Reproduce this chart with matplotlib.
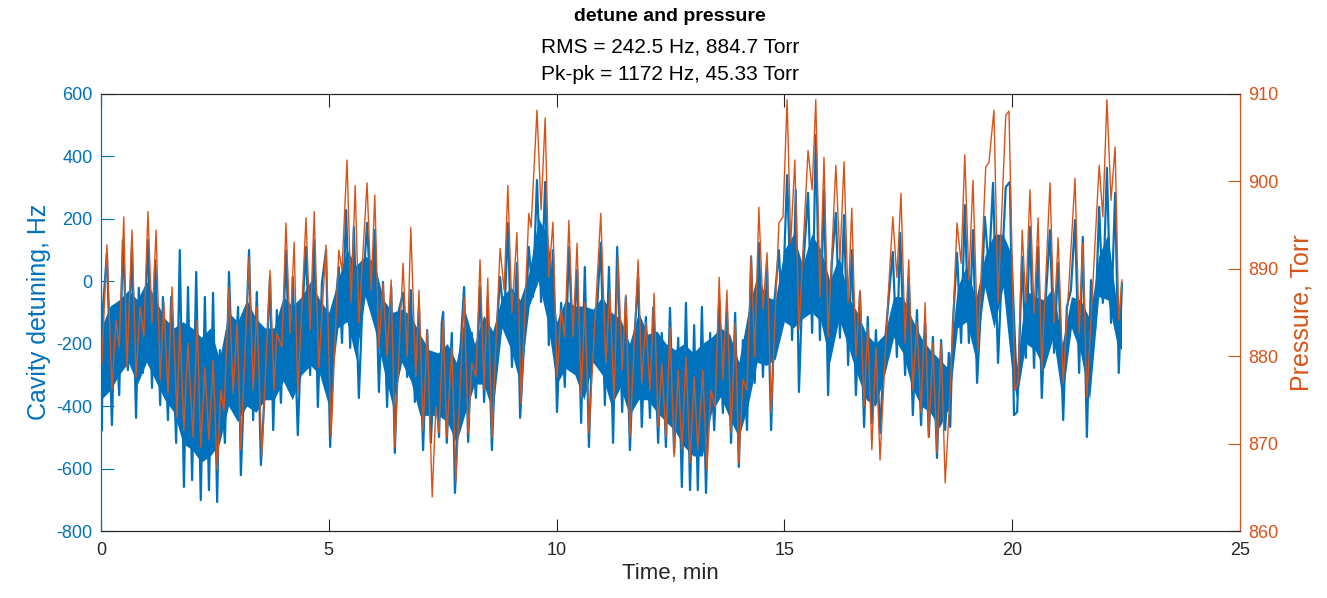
import matplotlib.pyplot as plt

# Cavity detuning (blue), read peak-to-peak from the picture
t_det = [0.02, 0.04, 0.13, 0.24, 0.31, 0.40, 0.48, 0.59, 0.68, 0.77, 0.83, 0.92, 1.03, 1.12, 1.19, 1.30,
         1.36, 1.47, 1.54, 1.65, 1.73, 1.82, 1.91, 2.00, 2.09, 2.19, 2.28, 2.37, 2.46, 2.55, 2.61, 2.72,
         2.81, 2.90, 3.01, 3.07, 3.25, 3.34, 3.42, 3.51, 3.64, 3.71,
         3.78, 3.86, 3.95, 4.06, 4.15, 4.21, 4.32, 4.41, 4.50, 4.59, 4.68, 4.76, 4.85, 4.94, 5.03, 5.11,
         5.22, 5.29, 5.38, 5.47, 5.55, 5.66, 5.75, 5.84, 5.93, 6.01, 6.10, 6.19, 6.28, 6.37, 6.45, 6.54,
         6.63, 6.72, 6.80, 6.89, 6.98, 7.07, 7.16, 7.24, 7.33, 7.42, 7.48,
         7.51, 7.59, 7.70, 7.77, 7.88, 7.97, 8.06, 8.14, 8.23, 8.32, 8.41, 8.49, 8.58, 8.67, 8.76, 8.85,
         8.93, 9.02, 9.13, 9.20, 9.31, 9.39, 9.48, 9.57, 9.66, 9.75, 9.83, 9.92, 10.01, 10.10, 10.18, 10.27,
         10.36, 10.45, 10.54, 10.62, 10.71, 10.80, 10.89, 10.97, 11.06, 11.15,
         11.24, 11.33, 11.44, 11.52, 11.61, 11.70, 11.79, 11.87, 11.96, 12.05, 12.12, 12.23, 12.31, 12.40,
         12.49, 12.58, 12.67, 12.75, 12.84, 12.93, 13.02, 13.10, 13.19, 13.28, 13.37, 13.46, 13.57, 13.65,
         13.74, 13.83, 13.92, 14.00, 14.09, 14.18, 14.27, 14.35, 14.44, 14.53, 14.62, 14.71, 14.79, 14.88,
         14.95, 15.06, 15.17, 15.25, 15.32, 15.41, 15.52, 15.61, 15.69, 15.78, 15.87, 15.96, 16.04, 16.13,
         16.22, 16.31, 16.40, 16.48, 16.57, 16.66, 16.75, 16.83, 16.92, 17.01, 17.10, 17.19, 17.30, 17.38,
         17.47, 17.54, 17.65, 17.73, 17.82, 17.91, 18.00, 18.09, 18.17, 18.26, 18.35, 18.44, 18.53, 18.61,
         18.64, 18.70, 18.79, 18.88, 18.96, 19.05, 19.14, 19.23, 19.32, 19.40, 19.49, 19.58, 19.69, 19.78,
         19.86, 19.95, 20.04, 20.11, 20.22, 20.30, 20.39, 20.48, 20.57, 20.65, 20.74, 20.83, 20.92, 21.01,
         21.12, 21.20, 21.29, 21.38, 21.47, 21.55, 21.64, 21.73, 21.82, 21.91, 21.99, 22.08, 22.17, 22.26,
         22.34, 22.41]
detune_hz = [-477, -93, 90, -461, -77, -365, 131, -285, 109, -438, -22, -294, 131, -342, 67, -397,
             -51, -445, -51, -518, 99, -659, -19, -637, 29, -701, -51, -669, -38, -707, -221, -518,
             29, -371, -83, -621, 99, -445, -35, -589, -221, 13,
             -477, -93, -390, 99, -323, 13, -493, -125, 109, -301, 131, -403, -6, 99, -531, -134,
             45, -198, 227, -214, 173, -374, -29, 186, -83, 163, -355, -3, -403, -19, -550, -93,
             -38, -307, -29, -387, -83, -541, -157, -518, -243, -499, -134,
             -99, -518, -166, -678, -243, -19, -515, -166, -374, -19, -387, -51, -541, -198, 13, -134,
             186, -275, 58, -438, -134, 109, -51, 323, -67, 317, -205, 99, -419, -70, -339, 109,
             -221, 35, -454, 45, -531, -115, -83, 122, -397, 45,
             -518, 109, -419, -51, -541, -198, 13, -467, -115, -438, -86, -518, -166, -531,
             -86, -550, -182, -659, -70, -669, -141, -669, -83, -678, -166, -477, -61, -422,
             -93, -518, -102, -595, -189, -477, 77, -326, 122, -307, 45, -477, -51, 99,
             -125, 339, -189, 291, -355, 35, 282, -166, 467, -189, 291, -365, 58, 218,
             -182, 211, -269, 99, -365, -38, -467, -115, -454, -157, -486, -230, -38, 93,
             -243, 154, -301, 13, -429, -93, -461, -134, -499, -179, -566, -189, -477, -230,
             -467, -134, 90, -198, 243, -198, 163, -326, -70, 205, 35, 314, -262, 58,
             301, 317, -429, -419, 77, -246, 173, -278, 109, -374, -51, 163, -230, 58,
             -445, -83, -29, 195, -294, 141, -499, 3, -157, 237, -70, 362, -134, 282,
             -294, -6]

# solid core of the blue trace (where the fast detuning noise fills in)
t_core = [0.0, 0.2, 0.4, 0.6, 0.8, 1.0, 1.2, 1.4, 1.6, 1.8,
          2.0, 2.2, 2.4, 2.6, 2.8, 3.0, 3.2, 3.4, 3.6, 3.8,
          4.0, 4.2, 4.4, 4.6, 4.8, 5.0, 5.2, 5.4, 5.6, 5.8,
          6.0, 6.2, 6.4, 6.6, 6.8, 7.0, 7.2, 7.4, 7.6, 7.8,
          8.0, 8.2, 8.4, 8.6, 8.8, 9.0, 9.2, 9.4, 9.6, 9.8,
          10.0, 10.2, 10.4, 10.6, 10.8, 11.0, 11.2, 11.4, 11.6, 11.8,
          12.0, 12.2, 12.4, 12.6, 12.8, 13.0, 13.2, 13.4, 13.6, 13.8,
          14.0, 14.2, 14.4, 14.6, 14.8, 15.0, 15.2, 15.4, 15.6, 15.8,
          16.0, 16.2, 16.4, 16.6, 16.8, 17.0, 17.2, 17.4, 17.6, 17.8,
          18.0, 18.2, 18.4, 18.6, 18.8, 19.0, 19.2, 19.4, 19.6, 19.8,
          20.0, 20.1, 20.3, 20.5, 20.7, 20.9, 21.1, 21.3, 21.5, 21.7,
          21.9, 22.1, 22.3, 22.4]
core_hi = [-150, -80, -60, -30, -60, 0, -60, -120, -150, -130,
           -150, -180, -150, -250, -100, -130, -60, -120, -150, -150,
           -50, -80, -50, 0, -60, -100, 0, 100, 50, 80,
           60, -60, -100, -90, -110, -170, -220, -230, -200, -260,
           -100, -200, -110, -160, -50, -20, -60, 30, 200, 150,
           -130, -60, -80, -80, -90, -50, -100, -120, -200, -100,
           -170, -160, -200, -220, -200, -230, -200, -180, -150, -170,
           -260, -100, 20, -50, -60, 100, 150, 50, 150, 100,
           0, 80, -50, -100, -170, -200, -170, -50, -50, -120,
           -180, -220, -250, -280, -20, 50, -60, 80, 150, 150,
           80, -280, -30, -50, -60, -20, -200, -50, -60, -120,
           80, 150, -80, -100]
core_lo = [-380, -350, -300, -260, -330, -260, -320, -380, -420, -520,
           -540, -580, -560, -520, -400, -450, -400, -420, -380, -380,
           -320, -380, -300, -270, -300, -400, -150, -130, -250, -50,
           -150, -280, -400, -260, -320, -430, -430, -430, -450, -520,
           -420, -330, -330, -420, -150, -220, -330, -80, 0, -130,
           -330, -280, -300, -380, -260, -300, -400, -340, -430, -380,
           -380, -420, -450, -480, -530, -560, -560, -420, -370, -440,
           -500, -400, -260, -270, -250, -130, -150, -120, -100, -130,
           -260, -120, -210, -300, -380, -400, -300, -180, -230, -340,
           -400, -420, -470, -410, -150, -130, -250, -20, -150, -20,
           -300, -380, -200, -220, -280, -180, -380, -150, -230, -380,
           -50, -60, -200, -220]

# Pressure (orange), peaks and troughs
t_pres = [0.02, 0.13, 0.24, 0.33, 0.40, 0.50, 0.57, 0.68, 0.77, 0.86, 0.94, 1.03, 1.12, 1.21, 1.30, 1.38,
          1.47, 1.56, 1.67, 1.73, 1.82, 1.91, 2.02, 2.11, 2.19, 2.28, 2.37, 2.46, 2.55, 2.63, 2.70, 2.81,
          2.90, 2.99, 3.07, 3.25, 3.34, 3.42, 3.53, 3.71, 3.80, 3.86, 3.97, 4.06, 4.15, 4.24, 4.32, 4.50,
          4.59, 4.68, 4.78, 4.94, 5.05, 5.22, 5.29, 5.40, 5.49, 5.58, 5.66, 5.84, 5.93, 6.01, 6.10, 6.19,
          6.28, 6.37, 6.45, 6.63, 6.72, 6.80, 6.91, 6.98, 7.07, 7.16, 7.27, 7.35, 7.42, 7.51, 7.59, 7.70,
          7.79, 7.97, 8.06, 8.14, 8.23, 8.32, 8.41, 8.49, 8.58, 8.76, 8.85, 8.93, 9.02, 9.13, 9.22, 9.39,
          9.44, 9.57, 9.66, 9.75, 9.83, 9.92, 10.01, 10.10, 10.18, 10.27, 10.36, 10.45, 10.54, 10.62, 10.71, 10.97,
          11.08, 11.17, 11.26, 11.35, 11.44, 11.52, 11.61, 11.79, 11.87, 11.96, 12.05, 12.14, 12.23, 12.31, 12.40, 12.49,
          12.58, 12.67, 12.75, 12.84, 12.93, 13.02, 13.10, 13.21, 13.30, 13.39, 13.48, 13.57, 13.65, 13.74, 13.83, 13.92,
          14.00, 14.09, 14.18, 14.27, 14.35, 14.44, 14.53, 14.62, 14.71, 14.88, 14.97, 15.06, 15.14, 15.23, 15.32, 15.52,
          15.61, 15.69, 15.78, 15.87, 15.96, 16.13, 16.22, 16.31, 16.40, 16.48, 16.57, 16.66, 16.75, 16.83, 16.92, 17.01,
          17.10, 17.27, 17.38, 17.47, 17.56, 17.65, 17.73, 17.82, 17.91, 18.00, 18.09, 18.17, 18.26, 18.35, 18.44, 18.53,
          18.64, 18.79, 18.88, 18.96, 19.05, 19.14, 19.25, 19.42, 19.49, 19.60, 19.69, 19.86, 19.93, 20.06, 20.13, 20.22,
          20.30, 20.39, 20.48, 20.57, 20.65, 20.83, 20.92, 21.01, 21.12, 21.38, 21.47, 21.55, 21.64, 21.91, 21.99, 22.08,
          22.17, 22.26, 22.34, 22.41]
pressure_torr = [879.2, 892.7, 876.1, 884.1, 881.0, 895.9, 878.7, 894.4, 877.6, 885.6, 882.2, 896.5, 883.8, 894.4, 877.3, 886.1,
                 875.8, 887.9, 873.0, 883.8, 871.5, 881.5, 870.7, 884.1, 869.6, 878.7, 870.4, 879.5, 867.0, 876.1, 873.8, 887.9,
                 875.8, 883.8, 869.3, 891.3, 876.1, 885.6, 868.5, 889.8, 876.1, 882.6, 881.0, 895.2, 882.6, 893.0, 875.8, 895.8,
                 883.0, 896.5, 878.7, 892.7, 870.7, 892.1, 889.8, 902.4, 886.1, 899.5, 883.8, 899.8, 887.5, 898.4, 881.0, 888.3,
                 879.9, 888.7, 869.6, 890.6, 879.9, 894.7, 877.6, 887.5, 871.5, 883.0, 863.9, 874.2, 871.2, 884.1, 870.7, 881.0,
                 865.5, 886.7, 871.2, 879.2, 877.6, 891.0, 876.1, 888.9, 870.7, 892.3, 887.5, 899.5, 884.9, 894.1, 874.6, 896.3,
                 894.7, 908.1, 896.7, 907.2, 889.0, 895.3, 877.6, 885.3, 882.2, 895.5, 882.2, 892.9, 875.3, 886.1, 871.2, 896.3,
                 879.2, 887.5, 875.0, 891.3, 878.4, 887.0, 870.7, 891.0, 876.9, 883.8, 876.1, 887.2, 871.9, 879.2, 870.7, 883.3,
                 868.5, 878.4, 869.3, 879.9, 867.8, 877.6, 869.3, 878.4, 867.0, 876.1, 874.2, 889.0, 877.3, 887.5, 871.2, 883.8,
                 867.8, 877.3, 876.1, 891.5, 879.9, 897.0, 885.3, 891.8, 873.5, 895.2, 895.9, 909.3, 892.9, 902.4, 883.0, 903.5,
                 899.0, 909.3, 886.7, 902.7, 882.2, 901.8, 891.0, 902.2, 886.1, 896.9, 879.9, 887.5, 874.2, 883.3, 869.3, 881.0,
                 868.1, 886.1, 895.9, 889.0, 898.6, 881.5, 891.0, 876.1, 883.8, 873.5, 886.1, 870.7, 881.5, 868.9, 881.5, 865.5,
                 876.1, 895.2, 890.6, 903.0, 888.7, 900.1, 880.7, 901.6, 902.1, 908.1, 886.1, 907.5, 908.0, 876.1, 876.9, 894.4,
                 886.1, 899.0, 884.9, 895.8, 878.4, 899.8, 883.8, 893.5, 876.9, 900.3, 882.6, 892.9, 875.3, 901.8, 895.9, 909.3,
                 897.8, 903.9, 884.1, 888.7]

blue = '#0072BD'
orange = '#D95319'
dark = '#262626'

plt.rcParams['font.family'] = ['Liberation Sans', 'DejaVu Sans']
plt.rcParams['axes.unicode_minus'] = False

fig = plt.figure(figsize=(13.27, 5.98), dpi=100)
ax = fig.add_axes([0.0761, 0.112, 0.8583, 0.7316])
ax2 = ax.twinx()

ax.fill_between(t_core, core_lo, core_hi, color=blue, lw=0)
ax.plot(t_det, detune_hz, color=blue, lw=1.6)
ax2.plot(t_pres, pressure_torr, color=orange, lw=1.0)

ax.set_xlim(0, 25)
ax.set_ylim(-800, 600)
ax2.set_ylim(860, 910)
ax.set_xticks(range(0, 26, 5))
ax.set_yticks(range(-800, 601, 200))
ax2.set_yticks(range(860, 911, 10))

ax.set_xlabel('Time, min', fontsize=16, color=dark, labelpad=3)
ax.set_ylabel('Cavity detuning, Hz', fontsize=18, color=blue, labelpad=4)
ax2.set_ylabel('Pressure, Torr', fontsize=18, color=orange, labelpad=8)

ax.tick_params(axis='x', direction='in', length=9, top=True, colors=dark, labelsize=13, pad=8)
ax.tick_params(axis='y', direction='in', length=9, colors=blue, labelsize=13, pad=6)
ax2.tick_params(axis='y', direction='in', length=9, colors=orange, labelsize=13, pad=6)

for a in (ax, ax2):
    a.spines['top'].set_color(dark)
    a.spines['bottom'].set_color(dark)
    a.spines['left'].set_color(blue)
    a.spines['right'].set_color(orange)

fig.text(0.505, 0.973, 'detune and pressure', ha='center', va='center', fontsize=14, fontweight='bold')
fig.text(0.505, 0.921, 'RMS = 242.5 Hz, 884.7 Torr', ha='center', va='center', fontsize=15)
fig.text(0.505, 0.875, 'Pk-pk = 1172 Hz, 45.33 Torr', ha='center', va='center', fontsize=15)

fig.savefig('out.png', dpi=100)
